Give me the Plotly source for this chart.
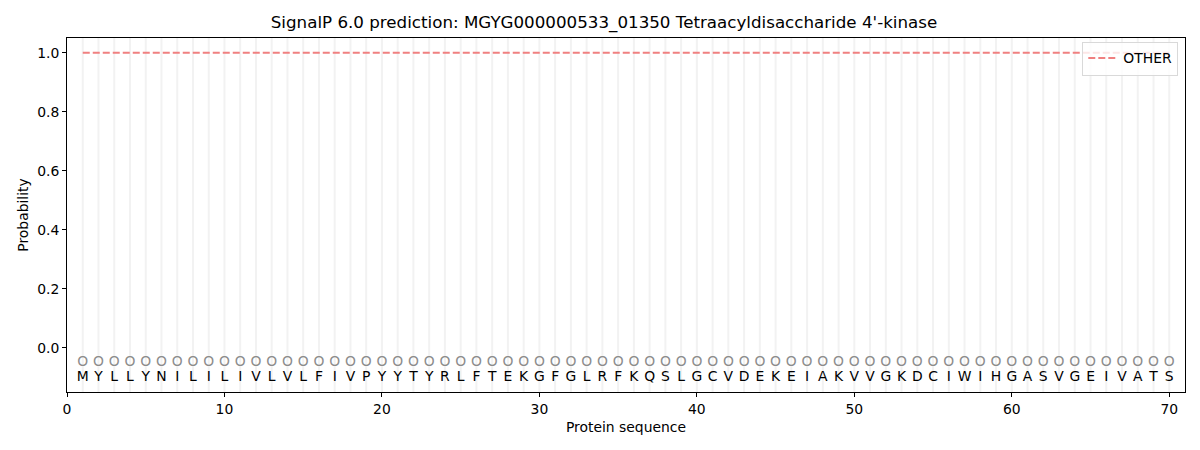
import plotly.graph_objects as go

TITLE = "SignalP 6.0 prediction: MGYG000000533_01350 Tetraacyldisaccharide 4'-kinase"
SEQUENCE = list("MYLLYNILILIVLVLFIVPYYTYRLFTEKGFGLRFKQSLGCVDEKEIAKVVGKDCIWIHGASVGEIVATS")
POSITIONS = list(range(1, len(SEQUENCE) + 1))
OTHER_PROB = [1.0] * len(SEQUENCE)
PRED_LABELS = ["O"] * len(SEQUENCE)
X_TICKS = [0, 10, 20, 30, 40, 50, 60, 70]
Y_TICKS = [0.0, 0.2, 0.4, 0.6, 0.8, 1.0]

FONT = "DejaVu Sans"
SZ = 13.9

fig = go.Figure()

# rejilla vertical, una linea por residuo
for pos in POSITIONS:
    fig.add_shape(
        type="line", x0=pos, x1=pos, y0=0, y1=1, yref="paper",
        line=dict(color="#f2f2f2", width=2), layer="below",
    )

fig.add_trace(
    go.Scatter(
        x=POSITIONS, y=OTHER_PROB, mode="lines",
        line=dict(color="#f08080", width=2, dash="7px,3px"),
        name="OTHER",
    )
)

fig.add_trace(
    go.Scatter(
        x=POSITIONS, y=[-0.05] * len(POSITIONS), mode="text",
        text=PRED_LABELS, textfont=dict(family=FONT, size=SZ, color="#8c8c8c"),
        showlegend=False, hoverinfo="skip",
    )
)

fig.add_trace(
    go.Scatter(
        x=POSITIONS, y=[-0.1] * len(POSITIONS), mode="text",
        text=SEQUENCE, textfont=dict(family=FONT, size=SZ, color="black"),
        showlegend=False, hoverinfo="skip",
    )
)

# la pagina tiene 8px de margen en body: se compensa en el tamano
fig.update_layout(
    width=1192, height=442,
    title=dict(text=TITLE, x=0.5, xanchor="center", y=0.968, yanchor="middle",
               font=dict(family=FONT, size=16.7, color="black")),
    font=dict(family=FONT, size=SZ, color="black"),
    plot_bgcolor="white", paper_bgcolor="white",
    margin=dict(l=59, r=15, t=30, b=58),
    legend=dict(x=0.994, y=0.99, xanchor="right", yanchor="top",
                bordercolor="#d9d9d9", borderwidth=1, bgcolor="rgba(255,255,255,0.8)",
                font=dict(family=FONT, size=SZ), tracegroupgap=0),
    xaxis=dict(
        range=[0, 71], tickvals=X_TICKS, showgrid=False, zeroline=False,
        showline=True, linecolor="black", mirror=True, ticks="outside",
        ticklen=4, tickcolor="black", automargin=False,
        title=dict(text="Protein sequence", standoff=6, font=dict(size=SZ)),
    ),
    yaxis=dict(
        range=[-0.15, 1.05], tickvals=Y_TICKS, tickformat=".1f", showgrid=False,
        zeroline=False, showline=True, linecolor="black", mirror=True,
        ticks="outside", ticklen=4, tickcolor="black", automargin=False,
        title=dict(text="Probability", standoff=5, font=dict(size=SZ)),
    ),
)

fig.write_html("out.html")
